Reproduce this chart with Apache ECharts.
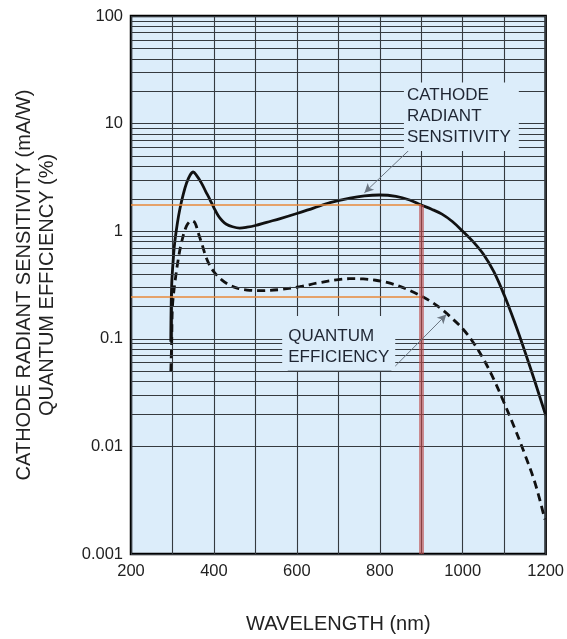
<!DOCTYPE html>
<html>
<head>
<meta charset="utf-8">
<script src="https://cdn.jsdelivr.net/npm/echarts@6/dist/echarts.min.js"></script>
<style>
html,body{margin:0;padding:0;background:#fff;}
#chart{width:567px;height:639px;}
</style>
</head>
<body>
<div id="chart"></div>
<script>
// ---- data ----
const sensWavelength = [296, 298, 303, 306, 312, 318, 326, 334, 342, 350, 358, 370, 380, 390, 400, 410, 420, 430, 445, 462, 480, 500, 527, 560, 600, 640, 680, 728, 763, 799, 839, 872, 900, 925, 950, 975, 1000, 1025, 1050, 1075, 1100, 1125, 1150, 1175, 1200];
const sensValue      = [0.094, 0.31, 0.62, 0.82, 1.2, 1.62, 2.2, 2.8, 3.3, 3.55, 3.3, 2.8, 2.35, 1.98, 1.65, 1.4, 1.25, 1.16, 1.1, 1.07, 1.09, 1.13, 1.21, 1.31, 1.46, 1.64, 1.84, 2.03, 2.13, 2.17, 2.11, 1.95, 1.75, 1.6, 1.44, 1.23, 1.0, 0.8, 0.61, 0.42, 0.255, 0.143, 0.076, 0.039, 0.0195];

const qeWavelength = [296, 298, 300, 306, 314, 322, 334, 346, 354, 362, 372, 382, 392, 402, 418, 438, 460, 480, 511, 560, 607, 650, 700, 728, 760, 790, 820, 850, 875, 900, 925, 950, 975, 1000, 1025, 1050, 1075, 1100, 1125, 1150, 1175, 1198];
const qeValue      = [0.05, 0.09, 0.2, 0.335, 0.55, 0.79, 1.12, 1.25, 1.2, 0.97, 0.74, 0.56, 0.465, 0.41, 0.355, 0.315, 0.293, 0.284, 0.28, 0.287, 0.305, 0.33, 0.355, 0.362, 0.36, 0.35, 0.332, 0.305, 0.278, 0.25, 0.22, 0.1875, 0.154, 0.124, 0.093, 0.065, 0.042, 0.0253, 0.0149, 0.0084, 0.0045, 0.0021];

const xTickLabels = [200, 400, 600, 800, 1000, 1200];
const yTickLabels = [0.001, 0.01, 0.1, 1, 10, 100];

const markerWavelength = 900;
const markerSens = 1.75;
const markerQE = 0.248;

// ---- build ----
const sensData = sensWavelength.map((w, i) => [w, sensValue[i]]);
const qeData = qeWavelength.map((w, i) => [w, qeValue[i]]);

// minor log gridlines (2..9 within each decade)
const minorGrid = [];
for (let d = 0; d < yTickLabels.length - 1; d++) {
  for (let m = 2; m <= 9; m++) {
    minorGrid.push({ yAxis: +(yTickLabels[d] * m).toPrecision(3) });
  }
}

const FONT = '"Liberation Sans", Arial, Helvetica, sans-serif';
const BG = '#dcedfa';
const GRIDC = '#353a3f';

const chart = echarts.init(document.getElementById('chart'), null, { renderer: 'canvas' });
chart.setOption({
  animation: false,
  backgroundColor: '#ffffff',
  textStyle: { fontFamily: FONT },
  grid: {
    left: 131, right: 21, top: 16, bottom: 84,
    show: true, backgroundColor: BG, borderColor: '#000', borderWidth: 2.5
  },
  xAxis: {
    type: 'value', min: 200, max: 1200, interval: 100,
    name: 'WAVELENGTH (nm)', nameLocation: 'middle', nameGap: 60,
    nameTextStyle: { fontSize: 20, color: '#222', fontFamily: FONT },
    axisLine: { show: false }, axisTick: { show: false },
    axisLabel: {
      margin: 9, fontSize: 16.5, color: '#222', fontFamily: FONT,
      formatter: v => (xTickLabels.indexOf(v) >= 0 ? String(v) : '')
    },
    splitLine: { show: true, lineStyle: { color: GRIDC, width: 1.1 } }
  },
  yAxis: {
    type: 'log', logBase: 10, min: 0.001, max: 100,
    name: 'CATHODE RADIANT SENSITIVITY (mA/W)\nQUANTUM EFFICIENCY (%)',
    nameLocation: 'middle', nameGap: 72, nameRotate: 90,
    nameTextStyle: { fontSize: 20, lineHeight: 23, color: '#222', fontFamily: FONT, align: 'center' },
    axisLine: { show: false }, axisTick: { show: false },
    axisLabel: {
      margin: 8, fontSize: 16.5, color: '#222', fontFamily: FONT,
      formatter: v => {
        const t = yTickLabels.find(x => Math.abs(Math.log10(x) - Math.log10(v)) < 1e-6);
        return t === undefined ? '' : String(t);
      }
    },
    splitLine: { show: true, lineStyle: { color: GRIDC, width: 1.1 } }
  },
  series: [
    {
      name: 'grid', type: 'line', data: [], z: 1, silent: true,
      markLine: {
        silent: true, symbol: 'none', label: { show: false },
        lineStyle: { color: GRIDC, width: 1.1, type: 'solid' },
        data: minorGrid
      }
    },
    {
      name: 'marker', type: 'line', data: [], z: 3, silent: true,
      markLine: {
        silent: true, symbol: 'none', label: { show: false },
        data: [
          [{ coord: [200, markerSens], lineStyle: { color: '#e8893a', width: 1.5, type: 'solid' } }, { coord: [markerWavelength, markerSens] }],
          [{ coord: [200, markerQE], lineStyle: { color: '#e8893a', width: 1.5, type: 'solid' } }, { coord: [markerWavelength, markerQE] }],
          [{ coord: [markerWavelength, markerSens], lineStyle: { color: 'rgba(190,70,70,0.6)', width: 5, type: 'solid' } }, { coord: [markerWavelength, 0.001] }]
        ]
      }
    },
    {
      name: 'CATHODE RADIANT SENSITIVITY', type: 'line', data: sensData, z: 4,
      smooth: 0.35, showSymbol: false, symbol: 'none',
      lineStyle: { color: '#111', width: 2.8 }
    },
    {
      name: 'QUANTUM EFFICIENCY', type: 'line', data: qeData, z: 4,
      smooth: 0.35, showSymbol: false, symbol: 'none',
      lineStyle: { color: '#111', width: 2.8, type: [8, 5] }
    },
    {
      name: 'annotations', type: 'line', data: [], z: 6, silent: true,
      markPoint: {
        silent: true, symbol: 'rect', symbolSize: [1, 1],
        itemStyle: { color: 'rgba(0,0,0,0)' },
        data: [
          {
            coord: [859.4, 23.9],
            label: {
              show: true, position: [0, 0], formatter: 'CATHODE\nRADIANT\nSENSITIVITY',
              fontSize: 17, lineHeight: 21, color: '#1f2633', fontFamily: FONT,
              backgroundColor: BG, padding: [2.5, 8, 3, 3], align: 'left', verticalAlign: 'top'
            }
          },
          {
            coord: [565.8, 0.1614],
            label: {
              show: true, position: [0, 0], formatter: 'QUANTUM\nEFFICIENCY',
              fontSize: 17, lineHeight: 21, color: '#1f2633', fontFamily: FONT,
              backgroundColor: BG, padding: [9.5, 6, 3, 6], align: 'left', verticalAlign: 'top'
            }
          }
        ]
      },
      markLine: {
        silent: true, label: { show: false }, symbolSize: [7, 9],
        lineStyle: { color: '#6b7682', width: 1, type: 'solid' },
        data: [
          [{ coord: [871.5, 5.71], symbol: 'none' }, { coord: [1124, 5.71], symbol: 'none' }],
          [{ coord: [871.5, 5.71], symbol: 'none' }, { coord: [763, 2.28], symbol: 'arrow' }],
          [{ coord: [578, 0.0513], symbol: 'none' }, { coord: [828, 0.0513], symbol: 'none' }],
          [{ coord: [828, 0.0513], symbol: 'none' }, { coord: [960.5, 0.168], symbol: 'arrow' }]
        ]
      }
    }
  ]
});
</script>
</body>
</html>
